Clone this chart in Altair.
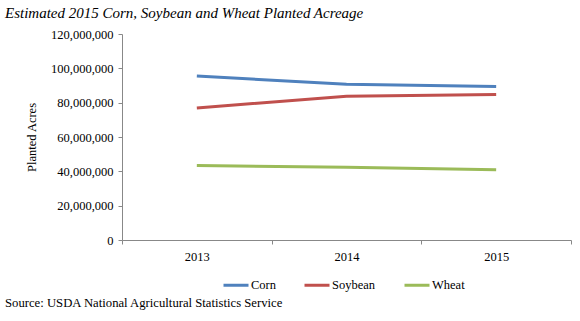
import altair as alt
import pandas as pd

years = ["2013", "2014", "2015"]
corn = [95_500_000, 90_700_000, 89_400_000]
soybean = [76_900_000, 83_800_000, 84_800_000]
wheat = [43_400_000, 42_400_000, 40_900_000]
series = ["Corn", "Soybean", "Wheat"]
colors = ["#4F81BD", "#C0504D", "#9BBB59"]

rows = []
for name, vals in zip(series, [corn, soybean, wheat]):
    for y, v in zip(years, vals):
        rows.append({"Year": y, "Crop": name, "Acres": v})
df = pd.DataFrame(rows)

FONT = "'Liberation Serif', 'Times New Roman', Times, serif"

lines = alt.Chart(df).mark_line(strokeWidth=3).encode(
    x=alt.X(
        "Year:O",
        bandPosition=0.5,
        scale=alt.Scale(type="band", paddingInner=0, paddingOuter=0),
        axis=alt.Axis(
            title=None, labelAngle=0, tickBand="extent", domainColor="#888888",
            tickColor="#888888", tickSize=4, labelPadding=6,
        ),
    ),
    y=alt.Y(
        "Acres:Q",
        scale=alt.Scale(domain=[0, 120_000_000]),
        axis=alt.Axis(
            title="Planted Acres", values=[0, 20e6, 40e6, 60e6, 80e6, 100e6, 120e6],
            format=",d", grid=False, domainColor="#888888", tickColor="#888888",
            tickSize=4, labelPadding=5, titlePadding=12,
        ),
    ),
    color=alt.Color(
        "Crop:N",
        scale=alt.Scale(domain=series, range=colors),
        legend=alt.Legend(
            title=None, orient="none", direction="horizontal", legendX=100, legendY=237,
            symbolType="stroke", symbolSize=625, symbolStrokeWidth=3,
            columnPadding=22, symbolOffset=0, labelOffset=1,
        ),
    ),
)

source = alt.Chart(pd.DataFrame({"t": ["Source: USDA National Agricultural Statistics Service"]})).mark_text(
    align="left", baseline="middle", font=FONT, fontSize=12.7, color="#000000"
).encode(text="t:N", x=alt.value(-117), y=alt.value(269))

chart = alt.layer(lines, source).properties(
    width=449,
    height=206,
    padding={"left": 122, "top": 34, "right": 9, "bottom": 81},
    autosize=alt.AutoSizeParams(type="none"),
    title=alt.TitleParams(
        "Estimated 2015 Corn, Soybean and Wheat Planted Acreage",
        anchor="start", frame="group", dx=-117, font=FONT, fontSize=15,
        fontStyle="italic", fontWeight="normal", color="#000000", offset=7,
    ),
).configure_view(stroke=None).configure_axis(
    labelFont=FONT, labelFontSize=12.5, labelColor="#000000",
    titleFont=FONT, titleFontSize=12.5, titleFontWeight="normal", titleColor="#000000",
).configure_legend(
    labelFont=FONT, labelFontSize=12.5, labelColor="#000000",
)

chart.save("out.html", embed_options={"renderer": "svg", "actions": False})
